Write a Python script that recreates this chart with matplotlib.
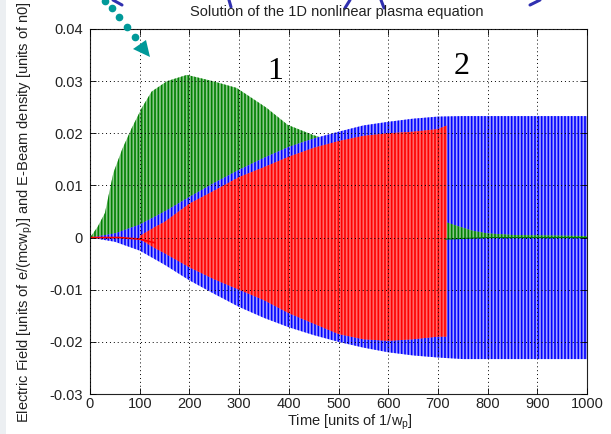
import matplotlib
matplotlib.use('Agg')
import matplotlib.pyplot as plt
from matplotlib.lines import Line2D
from matplotlib.patches import Polygon, Rectangle

plt.rcParams['font.family'] = ['Liberation Sans', 'DejaVu Sans']
plt.rcParams['mathtext.default'] = 'regular'
plt.rcParams['hatch.linewidth'] = 1.2

# envelopes (time, upper, lower)
blue_t = [0, 50, 100, 150, 200, 250, 300, 350, 400, 450, 500, 550, 600, 650, 700, 750, 1000]
blue_hi = [0, 0.0008, 0.0025, 0.005, 0.0078, 0.0105, 0.013, 0.0153, 0.0174, 0.019,
           0.0203, 0.0215, 0.0222, 0.0228, 0.0232, 0.0233, 0.0233]
blue_lo = [0, -0.0008, -0.0025, -0.0052, -0.0082, -0.0108, -0.0133, -0.0154, -0.0172, -0.0187,
           -0.0200, -0.0211, -0.0220, -0.0226, -0.0230, -0.0233, -0.0233]

green_t = [0, 15, 30, 47, 65, 84, 105, 124, 155, 195, 247, 295, 355, 398, 448, 470]
green_hi = [0, 0.002, 0.0047, 0.0124, 0.017, 0.021, 0.025, 0.028, 0.030, 0.0312,
            0.030, 0.0287, 0.0249, 0.0216, 0.0197, 0.019]
green_lo = [0] * len(green_t)

green2_t = [715, 740, 770, 800, 850, 1000]
green2_hi = [0.0030, 0.0022, 0.0013, 0.0008, 0.0005, 0.0003]
green2_lo = [-0.0003, -0.0002, -0.0001, 0, 0, 0]

red_t = [100, 130, 150, 200, 250, 300, 350, 400, 450, 500, 550, 600, 650, 700, 718]
red_hi = [0.0003, 0.002, 0.003, 0.0065, 0.009, 0.0116, 0.0135, 0.0155, 0.0172, 0.0185,
          0.0195, 0.020, 0.0203, 0.0208, 0.0215]
red_lo = [-0.0003, -0.002, -0.003, -0.0057, -0.008, -0.010, -0.012, -0.0145, -0.0165, -0.0185,
          -0.0195, -0.0198, -0.0195, -0.019, -0.019]
red_line_t = [0, 60, 100, 130]
red_line_y = [0, 0, -0.0003, -0.001]

xticks = [0, 100, 200, 300, 400, 500, 600, 700, 800, 900, 1000]
yticks = [-0.03, -0.02, -0.01, 0, 0.01, 0.02, 0.03, 0.04]
ylabels = ['-0.03', '-0.02', '-0.01', '0', '0.01', '0.02', '0.03', '0.04']

fig = plt.figure(figsize=(6.11, 4.34), dpi=100)
ax = fig.add_axes([90 / 611, 40 / 434, 497 / 611, 365 / 434])

ax.fill_between(green_t, green_lo, green_hi, facecolor='#8cc88c', edgecolor='#008000',
                hatch='|||||', linewidth=0)
ax.fill_between(blue_t, blue_lo, blue_hi, facecolor='#a4a4ff', edgecolor='#0000ff',
                hatch='|||||', linewidth=0)
ax.fill_between(green2_t, green2_lo, green2_hi, facecolor='#8cc88c', edgecolor='#008000',
                hatch='|||||', linewidth=0)
ax.plot(green2_t, green2_lo, color='#008000', lw=0.8)
ax.fill_between(red_t, red_lo, red_hi, facecolor='#ff6a6a', edgecolor='#ff0000',
                hatch='|||||', linewidth=0)
ax.plot(red_line_t, red_line_y, color='#ff0000', lw=1.2)

ax.text(372, 0.0318, '1', family='Liberation Serif', fontsize=23, ha='center', va='center')
ax.text(747, 0.0328, '2', family='Liberation Serif', fontsize=23, ha='center', va='center')

ax.set_xlim(0, 1000)
ax.set_ylim(-0.03, 0.04)
ax.set_xticks(xticks)
ax.set_yticks(yticks)
ax.set_yticklabels(ylabels)
ax.tick_params(direction='in', top=True, right=True, length=4, width=0.6,
               labelsize=10.5, labelcolor='#222222')
ax.tick_params(axis='x', pad=2)
ax.tick_params(axis='y', pad=5)
ax.set_axisbelow(False)
ax.grid(True, color='k', linestyle=(0, (1, 3)), linewidth=0.7)
for s in ax.spines.values():
    s.set_linewidth(0.8)
    s.set_color('#222222')

fig.text(337 / 611, 1 - 12 / 434, 'Solution of the 1D nonlinear plasma equation',
         fontsize=10.5, ha='center', va='center', color='#222222')
fig.text(350 / 611, 1 - 422 / 434, r'Time [units of 1/w$_{p}$]',
         fontsize=10.5, ha='center', va='center', color='#222222')
fig.text(25 / 611, 1 - 212 / 434,
         r'Electric Field [units of e/(mcw$_{p}$)] and E-Beam density [units of n0]',
         fontsize=10.5, ha='center', va='center', rotation=90, color='#222222')

# slide decorations around the plot
fig.add_artist(Rectangle((0, 0), 6 / 611, 1, transform=fig.transFigure,
                         facecolor='#eceff2', edgecolor='none', zorder=0))
dots_x = [105, 112, 119, 127, 135]
dots_y = [1, 8, 17, 27, 37]
for dx, dy in zip(dots_x, dots_y):
    fig.add_artist(Line2D([dx / 611], [1 - dy / 434], marker='o', markersize=4.5,
                          color='#009999', linestyle='none'))
fig.add_artist(Polygon([(133 / 611, 1 - 49 / 434), (146 / 611, 1 - 40 / 434),
                        (150 / 611, 1 - 57 / 434)], closed=True, transform=fig.transFigure,
                       facecolor='#009999', edgecolor='none'))
strokes = [((113, 0), (122, 5)), ((229, 0), (231, 7)), ((345, 8), (350, 0)),
           ((381, 0), (384, 8)), ((530, 5), (540, 0))]
for (x0, y0), (x1, y1) in strokes:
    fig.add_artist(Line2D([x0 / 611, x1 / 611], [1 - y0 / 434, 1 - y1 / 434],
                          color='#3030b0', lw=2.2, solid_capstyle='round'))

plt.savefig('out.png', dpi=100)
